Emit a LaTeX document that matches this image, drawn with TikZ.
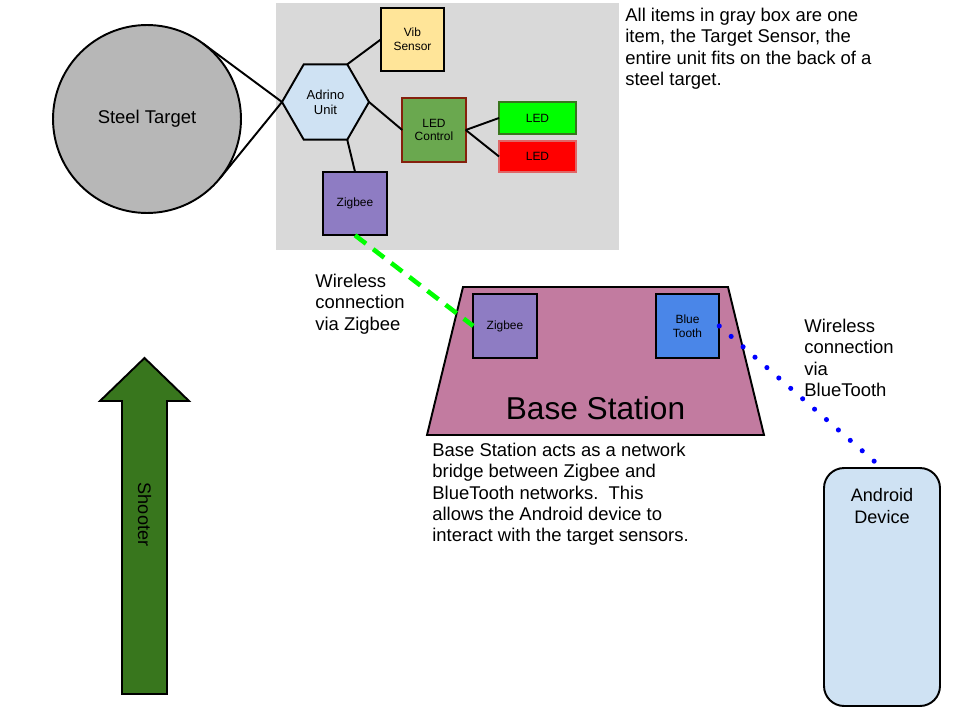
\documentclass[tikz,border=0pt]{standalone}
\usepackage{fontspec}
\setmainfont{Liberation Sans}
\usetikzlibrary{shapes.geometric,calc}

\definecolor{mBoxGray}{HTML}{D9D9D9}
\definecolor{mSteelGray}{HTML}{B7B7B7}
\definecolor{mPaleBlue}{HTML}{CFE2F3}
\definecolor{mPaleYellow}{HTML}{FFE599}
\definecolor{mLeafGreen}{HTML}{6AA84F}
\definecolor{mDarkRed}{HTML}{85200C}
\definecolor{mBrightGreen}{HTML}{00FF00}
\definecolor{mBrightRed}{HTML}{FF0000}
\definecolor{mSoftRed}{HTML}{E06666}
\definecolor{mPurple}{HTML}{8E7CC3}
\definecolor{mMauve}{HTML}{C27BA0}
\definecolor{mSkyBlue}{HTML}{4A86E8}
\definecolor{mForest}{HTML}{38761D}

\tikzset{
  part/.style={draw=black, line width=1.1pt, inner sep=0pt, outer sep=0pt,
    minimum size=1.27cm, align=center, font=\fontsize{6.8}{7.9}\selectfont},
  led/.style={part, minimum width=1.54cm, minimum height=0.63cm},
  note/.style={anchor=north west, inner sep=0pt, align=left,
    font=\fontsize{10.5}{12.2}\selectfont},
  wire/.style={line width=1.1pt},
}

\begin{document}
\begin{tikzpicture}[x=0.02cm, y=-0.02cm]

\useasboundingbox (0, 0) rectangle (960, 720);

\fill [mBoxGray] (276, 3) rectangle (619, 250);

\node[circle, draw=black, fill=mSteelGray, line width=1.1pt, inner sep=0pt, outer sep=0pt,
  minimum size=3.76cm, font=\fontsize{10.5}{12}\selectfont] (target) at (147, 119) {Steel Target};

\node[regular polygon, regular polygon sides=6, draw=black, fill=mPaleBlue, line width=1.1pt,
  inner sep=0pt, outer sep=0pt, minimum size=1.74cm, align=center,
  font=\fontsize{7.4}{8.5}\selectfont] (adrino) at (325.5, 102) {Adrino\\Unit};

\node[part, fill=mPaleYellow] (vib) at (412.5, 39.5) {Vib\\Sensor};
\node[part, fill=mLeafGreen, draw=mDarkRed] (ledctl) at (434, 130) {LED\\Control};
\node[led, fill=mBrightGreen, draw=mForest] (ledg) at (537.5, 118) {LED};
\node[led, fill=mBrightRed, draw=mSoftRed] (ledr) at (537.5, 156.5) {LED};
\node[part, fill=mPurple] (zig) at (355, 203.5) {Zigbee};

\draw[wire] (adrino.180) -- (tangent cs:node=target, point={(adrino.180)}, solution=1);
\draw[wire] (adrino.180) -- (tangent cs:node=target, point={(adrino.180)}, solution=2);
\draw[wire] (adrino.60) -- (vib.west);
\draw[wire] (adrino.0) -- (ledctl.west);
\draw[wire] (adrino.300) -- (zig.north);
\draw[wire] (ledctl.east) -- (ledg.west);
\draw[wire] (ledctl.east) -- (ledr.west);

\node[note] (unitnote) at (625, 7.5) {All items in gray box are one\\item, the Target Sensor, the\\entire unit fits on the back of a\\steel target.};

\draw[fill=mMauve, line width=1.1pt] (463, 287) -- (728, 287) -- (764, 435) -- (427, 435) -- cycle;
\node[anchor=base, inner sep=0pt, font=\fontsize{18}{20}\selectfont] (baselbl) at (595.5, 419) {Base Station};

\node[part, fill=mPurple] (bzig) at (505, 326) {Zigbee};
\node[part, fill=mSkyBlue] (bt) at (687.5, 326) {Blue\\Tooth};

\node[rectangle, rounded corners=0.4cm, draw=black, fill=mPaleBlue, line width=1.1pt,
  inner sep=0pt, outer sep=0pt, minimum width=2.32cm, minimum height=4.76cm] (android) at (882, 587) {};
\node[anchor=north, inner sep=0pt, align=center, font=\fontsize{10.3}{12}\selectfont]
  (androidlbl) at ($(android.north)+(0, 20.5)$) {Android\\Device};

\draw[mBrightGreen, line width=2.6pt, dash pattern=on 7.9pt off 5.1pt] (zig.south) -- (bzig.west);
\draw[blue, line width=2.9pt, line cap=round, dash pattern=on 0pt off 9pt] (bt.east) -- (android.north);

\node[note] (zignote) at (315, 273.5) {Wireless\\connection\\via Zigbee};
\node[note] (btnote) at (804, 318.5) {Wireless\\connection\\via\\BlueTooth};
\node[note] (basenote) at (432, 442.5) {Base Station acts as a network\\bridge between Zigbee and\\BlueTooth networks.\ \ This\\allows the Android device to\\interact with the target sensors.};

\draw[fill=mForest, line width=1.1pt] (122, 694) -- (122, 401) -- (100, 401) -- (144.5, 358)
  -- (189, 401) -- (167, 401) -- (167, 694) -- cycle;
\node[rotate=-90, inner sep=0pt, font=\fontsize{10.3}{12}\selectfont] (shooter) at (144.5, 514.5) {Shooter};

\end{tikzpicture}
\end{document}
